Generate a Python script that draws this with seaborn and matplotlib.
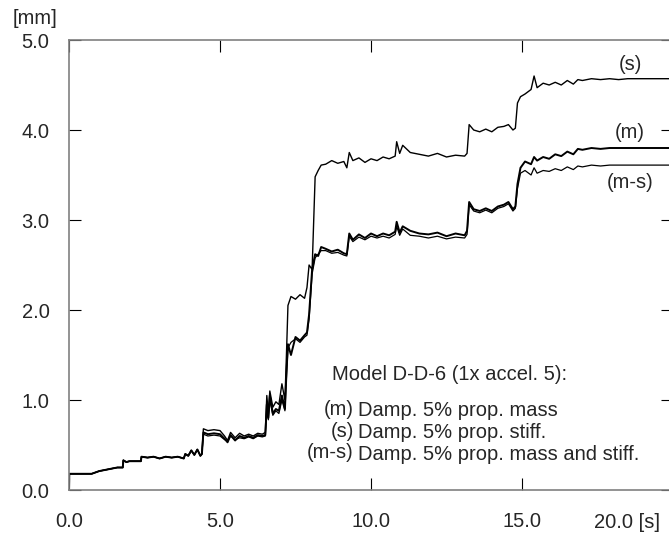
import pandas as pd
import matplotlib
matplotlib.use('Agg')
import matplotlib.pyplot as plt
import seaborn as sns

# waktu [s]
t = [0.0, 0.01, 0.75, 1.0, 1.3, 1.6, 1.78, 1.8, 1.9, 2.0, 2.2, 2.38, 2.4, 2.6, 2.8, 3.0, 3.2, 3.4, 3.6, 3.8,
     3.85, 3.95, 4.05, 4.15, 4.25, 4.35, 4.4,
     4.45, 4.6, 4.8, 5.0, 5.15, 5.25, 5.35, 5.5, 5.65, 5.8, 5.95, 6.1, 6.25, 6.4, 6.5,
     6.55, 6.6, 6.65, 6.75, 6.85, 6.95, 7.05, 7.15,
     7.2, 7.25, 7.35, 7.5, 7.65, 7.8, 7.88, 7.95, 8.05, 8.15, 8.25, 8.35,
     8.5, 8.7, 8.9, 9.1, 9.2, 9.28, 9.4, 9.6, 9.8, 10.0, 10.2, 10.4, 10.6, 10.8, 10.85, 10.95, 11.05,
     11.3, 11.6, 11.9, 12.2, 12.5, 12.8, 13.1, 13.18,
     13.25, 13.4, 13.6, 13.8, 14.0, 14.2, 14.4, 14.55, 14.7, 14.78,
     14.85, 14.95, 15.1, 15.3, 15.4, 15.5, 15.7, 15.9, 16.1, 16.3, 16.5, 16.7, 16.85, 17.0, 17.3,
     17.6, 17.9, 18.2, 18.5, 20.0]

base = [0.0, 0.18, 0.18, 0.21, 0.23, 0.25, 0.25, 0.33, 0.31, 0.32, 0.32, 0.32, 0.37, 0.36, 0.37, 0.35, 0.37,
        0.36, 0.37, 0.35, 0.40, 0.38, 0.44, 0.39, 0.45, 0.38, 0.40]

# (s) Damp. 5% prop. stiff.
disp_s = base + [
    0.68, 0.66, 0.67, 0.66, 0.60, 0.55, 0.64, 0.58, 0.63, 0.60, 0.62, 0.60, 0.63, 0.62, 0.64,
    1.05, 0.85, 1.10, 0.92, 0.98, 0.95, 1.18, 1.00,
    1.50, 2.05, 2.15, 2.12, 2.17, 2.13, 2.25, 2.50, 2.45, 3.48, 3.55, 3.61,
    3.62, 3.66, 3.63, 3.65, 3.58, 3.75, 3.66, 3.69, 3.64, 3.68, 3.66, 3.70, 3.68, 3.71, 3.87, 3.74, 3.83,
    3.75, 3.73, 3.71, 3.74, 3.70, 3.72, 3.71, 3.74,
    4.06, 4.00, 3.98, 4.01, 3.98, 4.03, 4.04, 4.06, 4.00, 4.02,
    4.30, 4.37, 4.40, 4.45, 4.60, 4.47, 4.52, 4.50, 4.53, 4.50, 4.55, 4.51, 4.56, 4.55, 4.57,
    4.56, 4.57, 4.56, 4.57, 4.57]

# (m) Damp. 5% prop. mass
disp_m = base + [
    0.64, 0.62, 0.63, 0.62, 0.57, 0.53, 0.61, 0.55, 0.60, 0.58, 0.60, 0.58, 0.61, 0.60, 0.61,
    0.95, 0.80, 1.05, 0.85, 0.90, 0.88, 1.05, 0.90,
    1.30, 1.62, 1.50, 1.70, 1.66, 1.72, 1.75, 1.95, 2.45, 2.62, 2.60, 2.70,
    2.68, 2.65, 2.67, 2.63, 2.62, 2.85, 2.78, 2.84, 2.80, 2.85, 2.82, 2.85, 2.83, 2.87, 2.98, 2.86, 2.93,
    2.88, 2.85, 2.84, 2.86, 2.82, 2.85, 2.83, 2.88,
    3.20, 3.12, 3.10, 3.13, 3.10, 3.15, 3.17, 3.20, 3.12, 3.15,
    3.40, 3.58, 3.65, 3.62, 3.70, 3.66, 3.70, 3.68, 3.73, 3.71, 3.76, 3.73, 3.79, 3.78, 3.80,
    3.79, 3.80, 3.80, 3.80, 3.80]

# (m-s) Damp. 5% prop. mass and stiff.
disp_ms = base + [
    0.62, 0.60, 0.61, 0.60, 0.56, 0.54, 0.60, 0.56, 0.58, 0.57, 0.59, 0.57, 0.60, 0.59, 0.60,
    0.90, 0.78, 1.00, 0.83, 0.88, 0.85, 1.00, 0.88,
    1.25, 1.58, 1.64, 1.68, 1.64, 1.70, 1.72, 1.90, 2.40, 2.58, 2.62, 2.66,
    2.66, 2.63, 2.64, 2.61, 2.60, 2.82, 2.76, 2.81, 2.78, 2.82, 2.80, 2.82, 2.80, 2.84, 2.93, 2.83, 2.90,
    2.83, 2.82, 2.80, 2.82, 2.79, 2.81, 2.80, 2.84,
    3.17, 3.10, 3.08, 3.11, 3.08, 3.13, 3.15, 3.18, 3.10, 3.13,
    3.35, 3.52, 3.55, 3.50, 3.58, 3.52, 3.55, 3.54, 3.57, 3.55, 3.59, 3.56, 3.60, 3.59, 3.61,
    3.60, 3.61, 3.61, 3.61, 3.61]

xticks = [0, 5, 10, 15, 20]
xticklabels = ['0.0', '5.0', '10.0', '15.0', '']
yticks = [0, 1, 2, 3, 4, 5]
yticklabels = ['0.0', '1.0', '2.0', '3.0', '4.0', '5.0']

df = pd.DataFrame({'t': t, 's': disp_s, 'm': disp_m, 'ms': disp_ms})

sns.set_style('ticks')
plt.rcParams['font.family'] = ['Liberation Sans', 'DejaVu Sans']

W, H = 669, 539
fig = plt.figure(figsize=(W / 100, H / 100), dpi=100)
ax = fig.add_axes([69 / W, 49 / H, (673 - 69) / W, (490 - 40) / H])

sns.lineplot(data=df, x='t', y='ms', ax=ax, color='k', linewidth=0.9, sort=False, estimator=None)
sns.lineplot(data=df, x='t', y='s', ax=ax, color='k', linewidth=1.0, sort=False, estimator=None)
sns.lineplot(data=df, x='t', y='m', ax=ax, color='k', linewidth=1.4, sort=False, estimator=None)

ax.set_xlim(0, 20)
ax.set_ylim(0, 5)
ax.set_xticks(xticks)
ax.set_xticklabels(xticklabels)
ax.set_yticks(yticks)
ax.set_yticklabels(yticklabels)
ax.set_xlabel('')
ax.set_ylabel('')
ax.tick_params(direction='in', length=8.5, width=0.8, color='k', labelsize=14.5,
               top=True, right=True)
ax.tick_params(axis='x', pad=16)
ax.tick_params(axis='y', pad=14)
for sp in ax.spines.values():
    sp.set_color('#808080')
    sp.set_linewidth(1.2)

def px(x, y):
    return x / W, 1 - y / H

fig.text(*px(35, 19), '[mm]', fontsize=14.5, ha='center', va='center')
fig.text(*px(627, 522), '20.0 [s]', fontsize=14.5, ha='center', va='center')

# label kurva
fig.text(*px(630, 65), '(s)', fontsize=14.5, ha='center', va='center')
fig.text(*px(630, 133), '(m)', fontsize=14.5, ha='center', va='center')
fig.text(*px(630, 182), '(m-s)', fontsize=14.5, ha='center', va='center')

# keterangan model
fig.text(*px(332, 374), 'Model D-D-6 (1x accel. 5):', fontsize=14.5, ha='left', va='center')
legend_rows = [('(m)', 'Damp. 5% prop. mass', 411),
               ('(s)', 'Damp. 5% prop. stiff.', 433),
               ('(m-s)', 'Damp. 5% prop. mass and stiff.', 454)]
for lab, desc, yy in legend_rows:
    fig.text(*px(354, yy - 1.5), lab, fontsize=14.5, ha='right', va='center')
    fig.text(*px(358, yy), desc, fontsize=14.5, ha='left', va='center')

fig.savefig('out.png', dpi=100)
